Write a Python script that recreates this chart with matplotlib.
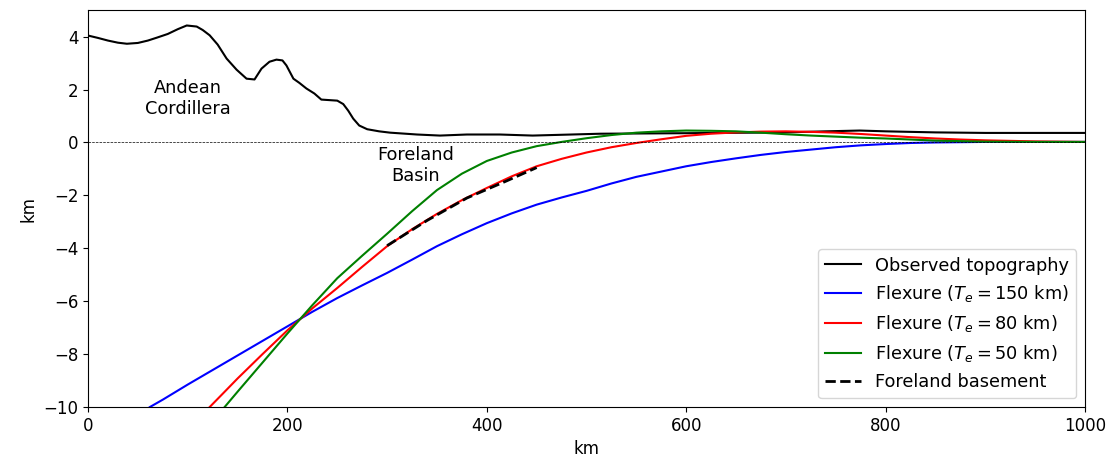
import matplotlib
matplotlib.use("Agg")
import matplotlib.pyplot as plt
import numpy as np

# observed topography (km)
topo_x = [0, 10, 20, 30, 39, 50, 60, 69, 80, 90, 99, 109, 115, 122, 130, 139, 149, 159, 167,
          174, 182, 189, 195, 199, 206, 212, 219, 227, 234, 250, 256, 261, 266, 272, 280, 292,
          303, 330, 353, 380, 413, 446, 514, 600, 700, 740, 774, 800, 850, 900, 1000]
topo_y = [4.04, 3.95, 3.85, 3.77, 3.73, 3.76, 3.85, 3.96, 4.10, 4.28, 4.42, 4.38, 4.25, 4.05,
          3.70, 3.17, 2.75, 2.41, 2.38, 2.79, 3.05, 3.13, 3.10, 2.91, 2.41, 2.25, 2.04, 1.85,
          1.62, 1.58, 1.45, 1.20, 0.90, 0.64, 0.50, 0.42, 0.37, 0.30, 0.26, 0.30, 0.30, 0.26,
          0.33, 0.35, 0.38, 0.42, 0.45, 0.42, 0.38, 0.36, 0.36]

# flexure profiles
blue_x = [62, 75, 100, 125, 150, 175, 200, 225, 250, 275, 300, 325, 350, 375, 400, 425, 450,
          475, 500, 525, 550, 575, 600, 625, 650, 675, 700, 725, 750, 775, 800, 825, 850, 900,
          950, 1000]
blue_y = [-10, -9.72, -9.15, -8.6, -8.05, -7.5, -6.95, -6.4, -5.88, -5.4, -4.93, -4.43, -3.92,
          -3.47, -3.05, -2.68, -2.35, -2.08, -1.83, -1.55, -1.3, -1.1, -0.9, -0.74, -0.6,
          -0.47, -0.36, -0.27, -0.18, -0.11, -0.06, -0.02, 0.0, 0.02, 0.02, 0.02]

red_x = [122, 135, 150, 175, 200, 225, 250, 275, 300, 325, 350, 375, 400, 425, 450, 475, 500,
         525, 550, 575, 600, 625, 650, 675, 700, 725, 750, 775, 800, 825, 850, 875, 900, 950,
         1000]
red_y = [-10, -9.5, -8.92, -8.0, -7.1, -6.27, -5.5, -4.7, -3.92, -3.28, -2.7, -2.18, -1.72,
         -1.28, -0.9, -0.62, -0.38, -0.18, -0.02, 0.12, 0.25, 0.33, 0.38, 0.41, 0.42, 0.40,
         0.37, 0.32, 0.26, 0.20, 0.15, 0.11, 0.08, 0.04, 0.02]

green_x = [137, 150, 175, 200, 225, 250, 275, 300, 325, 350, 375, 400, 425, 450, 475, 500, 525,
           550, 575, 600, 625, 650, 675, 700, 725, 750, 775, 800, 825, 850, 875, 900, 950,
           1000]
green_y = [-10, -9.42, -8.32, -7.22, -6.15, -5.13, -4.28, -3.45, -2.6, -1.8, -1.18, -0.7,
           -0.38, -0.14, 0.02, 0.16, 0.28, 0.37, 0.42, 0.45, 0.44, 0.42, 0.37, 0.31, 0.26,
           0.22, 0.18, 0.15, 0.11, 0.07, 0.05, 0.03, 0.02, 0.02]

# foreland basement
base_x = [300, 340, 380, 420, 450]
base_y = [-3.9, -2.95, -2.1, -1.45, -0.95]

plt.rcParams["font.size"] = 12

fig, ax = plt.subplots(figsize=(11.1, 4.61), dpi=100)
fig.subplots_adjust(left=0.0793, right=0.9775, top=0.978, bottom=0.117)

ax.plot(topo_x, topo_y, color="k", label="Observed topography")
ax.plot(blue_x, blue_y, color="b", label=r"Flexure ($T_e = 150$ km)")
ax.plot(red_x, red_y, color="r", label=r"Flexure ($T_e = 80$ km)")
ax.plot(green_x, green_y, color="g", label=r"Flexure ($T_e = 50$ km)")
ax.plot(base_x, base_y, "k--", lw=2, label="Foreland basement")
ax.axhline(0, color="k", ls="--", lw=0.5)

ax.text(100, 1.66, "Andean\nCordillera", ha="center", va="center", fontsize=12.8)
ax.text(329, -0.87, "Foreland\nBasin", ha="center", va="center", fontsize=12.8)

ax.set_xlim(0, 1000)
ax.set_ylim(-10, 5)
ax.set_xlabel("km")
ax.set_ylabel("km")
ax.legend(loc="lower right", fontsize=12.8)

plt.savefig("out.png")
